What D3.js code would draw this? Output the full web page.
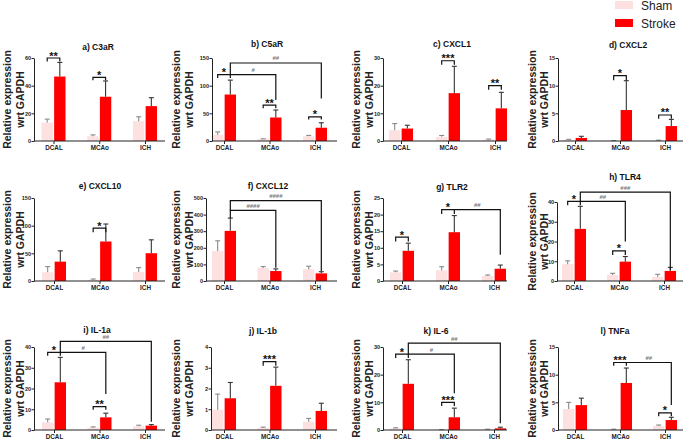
<!DOCTYPE html>
<html><head><meta charset="utf-8">
<script src="https://cdn.jsdelivr.net/npm/d3@7"></script>
<style>body{margin:0;background:#fff}svg{display:block;font-family:"Liberation Sans",Arial,sans-serif}</style>
</head><body><svg id="c" width="685" height="440"></svg>
<script>
// ---------- data ----------
const categories = ["DCAL","MCAo","ICH"];
const seriesNames = ["Sham","Stroke"];
const titles = ["a) C3aR","b) C5aR","c) CXCL1","d) CXCL2","e) CXCL10","f) CXCL12","g) TLR2","h) TLR4","i) IL-1a","j) IL-1b","k) IL-6","l) TNFa"];
const yLabelLines = ["Relative expression","wrt GAPDH"];
const yMax = [60,150,30,15,150,500,25,40,40,4,30,15];
const yStep = [20,50,10,5,50,100,5,10,10,1,10,5];
const shamMean = [
 [13.3,3.4,14.3],[11.5,3.6,8.5],[3.9,1.5,0.5],[0.2,0.05,0.1],
 [15.7,2.4,16.3],[181,79,71],[2.6,3.2,1.5],[8.5,3.0,2.0],
 [3.7,1.1,1.8],[0.97,0.11,0.4],[0.6,0.1,0.15],[3.8,0.1,0.73]];
const shamUpper = [
 [15.8,4.4,17.5],[16.4,4.0,10],[6.3,2.0,0.7],[0.3,0.08,0.15],
 [26,3.6,24.2],[242,87,89],[3.0,4.3,1.8],[10.2,3.9,3.4],
 [5.3,1.5,2.3],[1.73,0.14,0.56],[0.8,0.15,0.3],[5.0,0.15,0.9]];
const strokeMean = [
 [46.6,32,25.2],[84,42.5,24],[4.5,17.3,11.8],[0.55,5.6,2.7],
 [35,71.4,50.2],[302,60,46],[9.1,14.7,3.7],[26.4,9.8,5.1],
 [23,6.1,2.1],[1.53,2.13,0.92],[16.7,4.6,0.6],[4.5,8.5,1.8]];
const strokeUpper = [
 [56.8,43.4,31.3],[110,56,33],[5.7,27,17.6],[0.85,10.9,3.9],
 [54.5,103,74.4],[379,73,56],[11.4,19.7,4.8],[37.8,12.4,6.9],
 [35,8.1,2.6],[2.29,3.03,1.29],[25.4,7.9,1.0],[5.75,11.2,2.3]];
// significance brackets: [panel, cat1, series1, cat2, series2, lineValue, drop1Value, drop2Value, label]
const brackets = [
 [0,0,0,0,1,60,57.5,57.5,"**"],[0,1,0,1,1,46,44,44,"*"],
 [1,0,0,0,1,120,114,114,"*"],[1,0,1,1,1,120,120,74,"#"],[1,0,1,2,1,141,120,77,"##"],[1,1,0,1,1,65,59,59,"**"],[1,2,0,2,1,43.7,39,39,"*"],
 [2,1,0,1,1,29,27.6,27.6,"***"],[2,2,0,2,1,20,18.5,18.5,"**"],
 [3,1,0,1,1,11.8,11,11,"*"],[3,2,0,2,1,4.7,4.0,4.0,"**"],
 [4,1,0,1,1,95.6,88,88,"*"],
 [5,0,1,1,1,425,379,80,"####"],[5,0,1,2,1,484,425,60,"####"],
 [6,0,0,0,1,13.2,11.9,11.9,"*"],[6,1,0,1,1,21.5,20.2,20.2,"*"],[6,1,1,2,1,21.5,21.5,7.9,"##"],
 [7,0,0,0,1,40.3,38.3,38.3,"*"],[7,0,1,1,1,40.3,40.3,20,"##"],[7,0,1,2,1,45,40.3,5.6,"###"],[7,1,0,1,1,15.3,13.2,13.2,"*"],
 [8,0,0,0,1,37.4,35.8,35.8,"*"],[8,0,1,1,1,37.4,37.4,17.4,"#"],[8,0,1,2,1,42.7,37.4,4,"##"],[8,1,0,1,1,11.3,9.7,9.7,"**"],
 [9,1,0,1,1,3.3,3.1,3.1,"***"],
 [10,0,0,0,1,27.4,26,26,"*"],[10,0,1,1,1,27.4,27.4,13.3,"#"],[10,0,1,2,1,31.4,27.4,2.4,"##"],[10,1,0,1,1,10,8.7,8.7,"***"],
 [11,1,0,1,1,12.2,11.6,11.6,"***"],[11,1,1,2,1,12.2,12.2,4.5,"##"],[11,2,0,2,1,3.1,2.5,2.5,"*"]
];

// ---------- layout ----------
const axisX0 = [34,212,383,558,34,206,383,557,34,211,383,558];
const axisX1 = [165,337,507,683,165,337,507,683,165,337,507,683];
const plotTop = [58,58,58,58,198,198,198,202,347,347,347,347];
const plotBottom = [141,141,141,141,281,281,281,281,430,430,430,430];
const firstCenter = [53.5,224,401,575,54,224,402,574,54,224,402,575];
const lastCenter = [145,315,495,665,145,315,494,664,145,315,494,665];
const titleX = [98,267,452,628,100,268,452,625,97,263,436,615];
const titleY = [47,44,44,45,186,186,187,177,330,331,331,331];
const labelColX = [[7,20],[176,189],[356,369],[532,544]];
const colors = {Sham:"#fde0e0", Stroke:"#ff0000"};
const errColors = {Sham:"#8a8a8a", Stroke:"#333333"};

const svg = d3.select("#c");

titles.forEach((t,p)=>{
  const g = svg.append("g");
  const y = d3.scaleLinear().domain([0,yMax[p]]).range([plotBottom[p], plotTop[p]]);
  const x = d3.scalePoint().domain(categories).range([firstCenter[p], lastCenter[p]]);
  const xs = d3.scaleBand().domain(seriesNames).range([-12,12]).paddingInner(0.1);

  // bars
  const rows = [];
  categories.forEach((c,i)=>{
    rows.push({c, s:"Sham", v:shamMean[p][i], u:shamUpper[p][i]});
    rows.push({c, s:"Stroke", v:strokeMean[p][i], u:strokeUpper[p][i]});
  });
  g.selectAll("rect.bar").data(rows).join("rect")
    .attr("x", d=>x(d.c)+xs(d.s)).attr("width", xs.bandwidth())
    .attr("y", d=>y(d.v)).attr("height", d=>y(0)-y(d.v))
    .attr("fill", d=>colors[d.s]);
  // error bars
  const eb = g.selectAll("g.eb").data(rows).join("g")
    .attr("stroke", d=>errColors[d.s]).attr("stroke-width",1.1);
  eb.append("line").attr("x1",d=>x(d.c)+xs(d.s)+xs.bandwidth()/2).attr("x2",d=>x(d.c)+xs(d.s)+xs.bandwidth()/2)
    .attr("y1",d=>y(d.v)).attr("y2",d=>y(d.u));
  eb.append("line").attr("x1",d=>x(d.c)+xs(d.s)+xs.bandwidth()/2-2.5).attr("x2",d=>x(d.c)+xs(d.s)+xs.bandwidth()/2+2.5)
    .attr("y1",d=>y(d.u)).attr("y2",d=>y(d.u));

  // y axis
  const ya = d3.axisLeft(y).tickValues(d3.range(0, yMax[p]+yStep[p]/2, yStep[p])).tickSize(2.5).tickSizeOuter(0).tickFormat(d3.format("d"));
  const yg = g.append("g").attr("transform",`translate(${axisX0[p]},0)`).call(ya);
  yg.selectAll("path,line").attr("stroke","#222").attr("stroke-width",1);
  yg.selectAll("text").attr("font-size",5.5).attr("font-weight","bold").attr("fill","#222")
    .attr("font-family","Liberation Sans, Arial, sans-serif").attr("x",-3);
  // x axis
  g.append("line").attr("x1",axisX0[p]).attr("x2",axisX1[p]).attr("y1",y(0)).attr("y2",y(0))
    .attr("stroke","#222").attr("stroke-width",1);
  const xa = d3.axisBottom(x).tickSize(3).tickSizeOuter(0);
  const xg = g.append("g").attr("transform",`translate(0,${y(0)})`).call(xa);
  xg.select(".domain").remove();
  xg.selectAll("line").attr("stroke","#222");
  xg.selectAll("text").attr("font-size",6.3).attr("font-weight","bold").attr("fill","#222")
    .attr("font-family","Liberation Sans, Arial, sans-serif").attr("y",4.5);

  // title
  g.append("text").attr("x",titleX[p]).attr("y",titleY[p]+3).attr("text-anchor","middle")
    .attr("font-size",8.5).attr("font-weight","bold").attr("fill","#111").text(t);

  // y label
  const col = p % 4;
  const cy = (plotTop[p]+plotBottom[p])/2;
  yLabelLines.forEach((ln,k)=>{
    g.append("text").attr("transform",`translate(${labelColX[col][k]+4},${cy}) rotate(-90)`)
      .attr("text-anchor","middle").attr("font-size",10.5).attr("font-weight","bold").attr("fill","#222").text(ln);
  });

  // brackets
  brackets.filter(b=>b[0]===p).forEach(b=>{
    const xa1 = x(categories[b[1]])+xs(seriesNames[b[2]])+xs.bandwidth()/2;
    const xb1 = x(categories[b[3]])+xs(seriesNames[b[4]])+xs.bandwidth()/2;
    g.append("path").attr("d",`M${xa1},${y(b[6])}V${y(b[5])}H${xb1}V${y(b[7])}`)
      .attr("fill","none").attr("stroke","#111").attr("stroke-width",1.2);
    const isHash = b[8].startsWith("#");
    g.append("text").attr("x",(xa1+xb1)/2).attr("y", isHash ? y(b[5])-2.5 : y(b[5])+1.5)
      .attr("text-anchor","middle").attr("font-weight","bold")
      .attr("font-size", isHash ? 6 : 11).attr("fill", isHash ? "#777" : "#111").text(b[8]);
  });
});

// legend
const lg = svg.append("g");
seriesNames.forEach((s,i)=>{
  lg.append("rect").attr("x",615).attr("y",1+i*18).attr("width",18).attr("height",8).attr("fill",colors[s]);
  lg.append("text").attr("x",641).attr("y",10+i*18).attr("font-size",12).attr("fill","#222").text(s);
});
</script></body></html>
